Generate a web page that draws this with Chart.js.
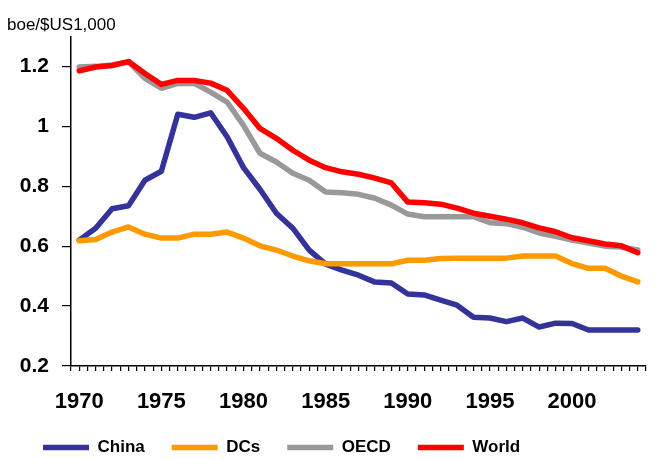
<!DOCTYPE html>
<html>
<head>
<meta charset="utf-8">
<script src="https://cdn.jsdelivr.net/npm/chart.js@4.4.1/dist/chart.umd.min.js"></script>
<style>
  html, body { margin: 0; padding: 0; background: #fff; }
  #wrap { width: 664px; height: 459px; }
</style>
</head>
<body>
<div id="wrap"><canvas id="chart" width="664" height="459"></canvas></div>
<script>
// Energy intensity, boe per $US1,000, 1970-2004
const years = [1970, 1971, 1972, 1973, 1974, 1975, 1976, 1977, 1978, 1979,
               1980, 1981, 1982, 1983, 1984, 1985, 1986, 1987, 1988, 1989,
               1990, 1991, 1992, 1993, 1994, 1995, 1996, 1997, 1998, 1999,
               2000, 2001, 2002, 2003, 2004];

const china = [0.62, 0.66, 0.725, 0.735, 0.82, 0.85, 1.04, 1.03, 1.045, 0.965,
               0.862, 0.79, 0.71, 0.66, 0.587, 0.54, 0.52, 0.503, 0.48, 0.477,
               0.44, 0.437, 0.42, 0.403, 0.363, 0.36, 0.348, 0.36, 0.33, 0.343,
               0.342, 0.32, 0.32, 0.32, 0.32];

const dcs = [0.618, 0.622, 0.647, 0.664, 0.64, 0.627, 0.627, 0.64, 0.64, 0.647,
             0.627, 0.601, 0.587, 0.567, 0.551, 0.541, 0.541, 0.541, 0.541, 0.541,
             0.553, 0.553, 0.559, 0.56, 0.56, 0.56, 0.56, 0.567, 0.567, 0.567,
             0.542, 0.526, 0.526, 0.50, 0.481];

const oecd = [1.198, 1.2, 1.205, 1.215, 1.16, 1.127, 1.143, 1.143, 1.114, 1.081,
              1.003, 0.91, 0.881, 0.843, 0.82, 0.781, 0.778, 0.773, 0.76, 0.737,
              0.707, 0.698, 0.698, 0.698, 0.698, 0.678, 0.675, 0.663, 0.644, 0.633,
              0.62, 0.61, 0.60, 0.597, 0.587];

const world = [1.185, 1.198, 1.203, 1.216, 1.176, 1.14, 1.153, 1.153, 1.144, 1.12,
               1.06, 0.993, 0.96, 0.92, 0.887, 0.862, 0.848, 0.84, 0.827, 0.811,
               0.747, 0.745, 0.74, 0.727, 0.71, 0.70, 0.69, 0.678, 0.661, 0.648,
               0.628, 0.618, 0.607, 0.601, 0.578];

const yTicks = [0.2, 0.4, 0.6, 0.8, 1, 1.2];
const unitLabel = 'boe/$US1,000';

const LEGEND_HEIGHT = 53;
const LEGEND_SHIFT_X = 9;
const LEGEND_SHIFT_Y = 6;

const toPoints = (vals) => vals.map((v, i) => ({ x: years[i], y: v }));

function series(label, vals, color, order) {
    return {
        label: label,
        data: toPoints(vals),
        borderColor: color,
        backgroundColor: color,
        borderWidth: 5.5,
        borderCapStyle: 'round',
        borderJoinStyle: 'round',
        pointRadius: 0,
        tension: 0,
        order: order
    };
}

// keep the legend short so its wide item padding doesn't eat the plot,
// and let the year labels run past the x scale box without being clipped
const layoutFix = {
    id: 'layoutFix',
    beforeLayout(chart) {
        const lg = chart.legend;
        if (!lg || lg._heightFixed) return;
        const fit = lg.fit.bind(lg);
        lg.fit = function() {
            fit();
            this.height = LEGEND_HEIGHT;
        };
        lg._heightFixed = true;
    },
    afterLayout(chart) {
        chart.scales.x.bottom = chart.height;
        chart.legend.left += LEGEND_SHIFT_X;
        chart.legend.top += LEGEND_SHIFT_Y;
    }
};

const boldFont = { family: "'Liberation Sans', Arial, sans-serif", weight: 'bold' };

new Chart(document.getElementById('chart').getContext('2d'), {
    type: 'line',
    data: {
        datasets: [
            series('China', china, '#333399', 4),
            series('DCs', dcs, '#FF9900', 3),
            series('OECD', oecd, '#999999', 2),
            series('World', world, '#FF0000', 1)
        ]
    },
    plugins: [layoutFix],
    options: {
        responsive: false,
        animation: false,
        layout: { padding: { left: 7, right: 1, top: 0, bottom: 0 } },
        plugins: {
            title: {
                display: true,
                text: unitLabel,
                align: 'start',
                color: '#000',
                font: { family: "'Liberation Sans', Arial, sans-serif", size: 17, weight: 'normal' },
                padding: { top: 15, bottom: 1 }
            },
            legend: {
                position: 'bottom',
                align: 'start',
                labels: {
                    usePointStyle: true,
                    pointStyle: 'line',
                    pointStyleWidth: 46,
                    padding: 27,
                    color: '#000',
                    font: Object.assign({ size: 17 }, boldFont),
                    sort: (a, b) => a.datasetIndex - b.datasetIndex
                }
            },
            tooltip: { enabled: false }
        },
        scales: {
            x: {
                type: 'linear',
                min: 1969.5,
                max: 2004.5,
                afterFit: (scale) => { scale.height = 40; },
                border: { color: '#000', width: 1.5 },
                grid: { drawOnChartArea: false, drawTicks: true, tickLength: 5, color: '#000', lineWidth: 1.2 },
                ticks: {
                    stepSize: 0.5,
                    autoSkip: false,
                    maxRotation: 0,
                    padding: 18,
                    color: '#000',
                    font: Object.assign({ size: 22 }, boldFont),
                    callback: (v) => (v % 5 === 0 ? String(v) : '')
                }
            },
            y: {
                min: 0.2,
                max: 1.3,
                afterFit: (scale) => { scale.width = 64; },
                afterBuildTicks: (scale) => { scale.ticks = yTicks.map((v) => ({ value: v })); },
                border: { color: '#000', width: 1.5 },
                grid: { drawOnChartArea: false, drawTicks: true, tickLength: 9, color: '#000', lineWidth: 1.2 },
                ticks: {
                    padding: 13,
                    color: '#000',
                    font: Object.assign({ size: 21 }, boldFont),
                    callback: (v) => String(+v.toFixed(1))
                }
            }
        }
    }
});
</script>
</body>
</html>
